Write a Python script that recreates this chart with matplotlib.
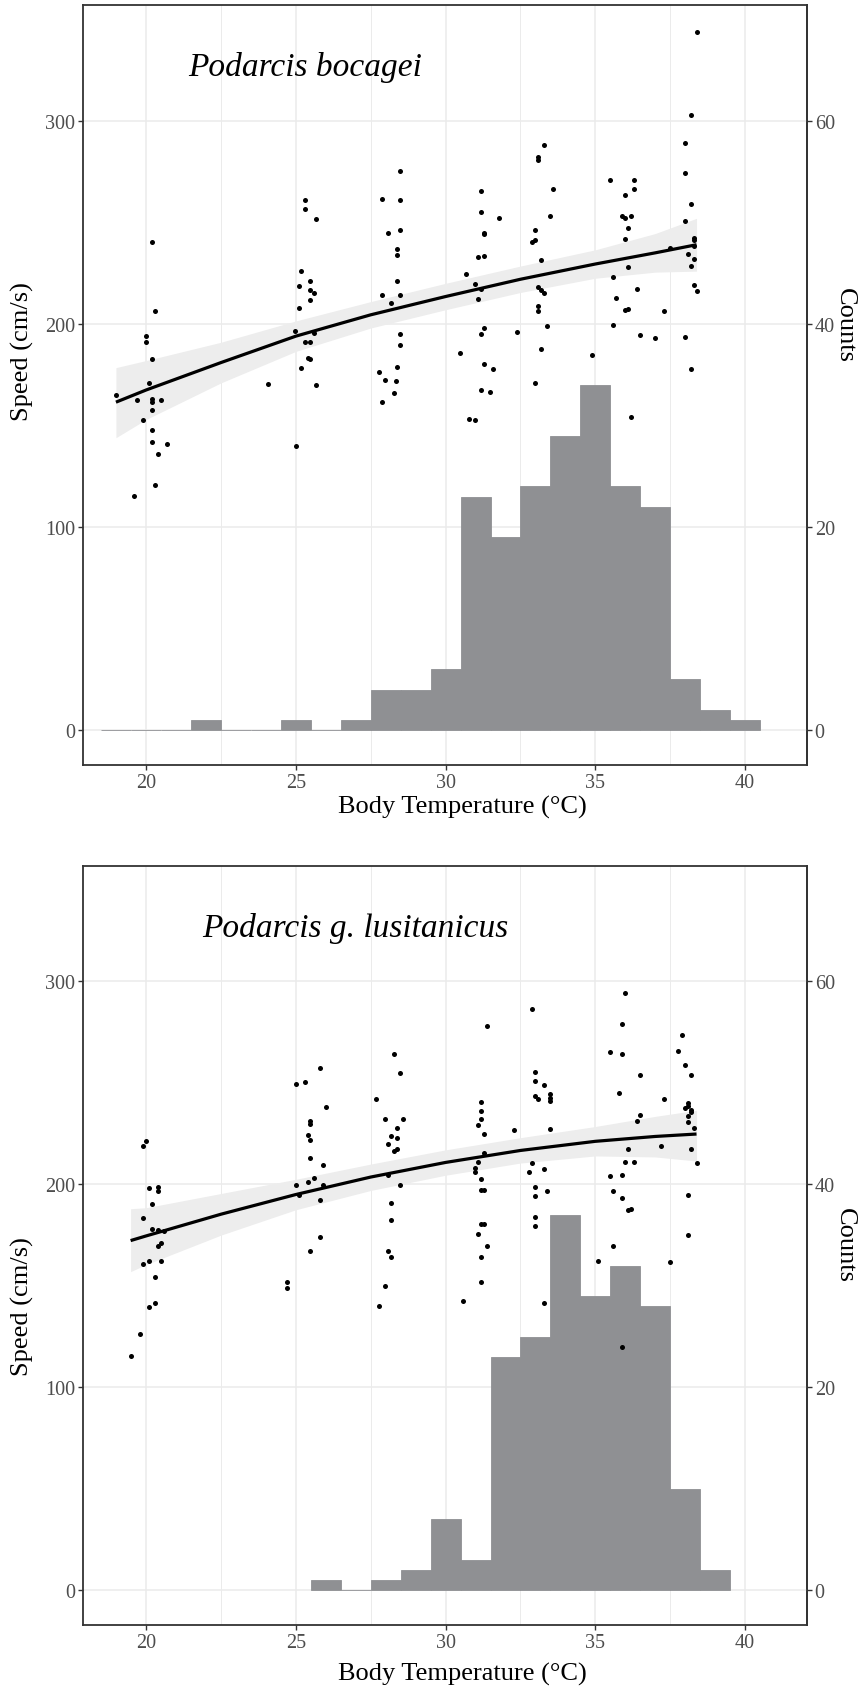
import numpy as np
import matplotlib
matplotlib.use("Agg")
import matplotlib.pyplot as plt

plt.rcParams['font.family'] = ['Liberation Serif', 'DejaVu Serif']

# ---------------- data: Podarcis bocagei ----------------
boc_temp = [20.18, 20.28, 19.98, 19.98, 20.18, 20.08, 18.99, 19.68, 20.18, 20.18, 20.48, 20.18, 19.88,
            20.18, 20.18, 20.68, 20.38, 20.28, 19.58,
            24.08, 24.99, 25.68, 25.29, 25.29, 25.68, 25.18, 25.09, 25.48, 25.48, 25.59, 25.48, 25.09,
            24.98, 25.59, 25.29, 25.48, 25.39, 25.48, 25.18,
            27.78, 27.98, 28.33, 28.28, 28.38, 27.88, 28.48, 27.88, 28.48, 28.08, 28.48, 28.38, 28.38,
            28.38, 27.88, 28.48, 28.18, 28.48, 28.48,
            30.68, 30.48, 31.17, 31.17, 31.27, 31.27, 31.77, 31.07, 31.27, 30.97, 31.17, 31.07, 31.27,
            31.17, 31.27, 31.57, 31.17, 31.47, 30.78, 30.98, 32.38,
            33.28, 33.08, 33.08, 33.58, 33.48, 32.98, 32.98, 32.88, 33.18, 33.08, 33.18, 33.28, 33.08,
            33.08, 33.38, 33.18, 32.98, 34.88,
            35.48, 36.28, 36.28, 35.98, 35.88, 35.98, 36.18, 36.08, 35.98, 35.58, 36.08, 36.38, 35.68,
            35.98, 36.08, 35.58, 36.48, 36.98, 37.28, 36.18,
            38.38, 38.18, 37.98, 37.98, 38.18, 37.98, 38.28, 38.28, 38.28, 38.08, 38.18, 38.28, 38.28,
            38.38, 37.98, 38.18, 37.48]
boc_speed = [240.2, 206.4, 193.9, 191.3, 182.6, 170.8, 165.2, 162.5, 163.1, 161.8, 162.5, 157.5, 152.5,
             147.7, 142.1, 140.8, 135.9, 120.8, 115.2,
             170.3, 139.8, 169.8, 261.0, 256.6, 251.8, 226.1, 218.5, 221.1, 216.6, 215.4, 211.6, 207.9,
             196.4, 195.6, 191.3, 191.0, 183.3, 182.9, 178.2,
             176.2, 172.2, 172.0, 166.0, 179.0, 161.6, 275.4, 261.6, 261.1, 244.9, 246.1, 236.9, 234.1,
             221.0, 214.3, 214.3, 210.3, 195.1, 189.7,
             224.4, 185.7, 265.6, 255.1, 244.8, 244.1, 252.0, 233.1, 233.4, 219.8, 217.2, 212.5, 198.2,
             194.9, 180.5, 178.0, 167.4, 166.6, 153.3, 152.5, 196.2,
             288.0, 282.1, 280.8, 266.4, 253.3, 246.1, 241.1, 240.3, 231.5, 218.2, 216.6, 215.2, 208.7,
             206.2, 199.2, 187.9, 171.1, 184.6,
             270.8, 270.8, 266.6, 263.4, 253.3, 252.1, 253.0, 247.2, 241.6, 223.1, 227.9, 217.2, 212.6,
             206.7, 207.2, 199.3, 194.8, 193.1, 206.2, 154.1,
             343.8, 303.1, 289.3, 274.1, 259.0, 250.5, 242.3, 241.1, 238.5, 234.6, 228.4, 232.1, 219.0,
             216.4, 193.8, 178.0, 237.4]
boc_bins = [19, 20, 21, 22, 23, 24, 25, 26, 27, 28, 29, 30, 31, 32, 33, 34, 35, 36, 37, 38, 39, 40]
boc_counts = [0, 0, 0, 1, 0, 0, 1, 0, 1, 4, 4, 6, 23, 19, 24, 29, 34, 24, 22, 5, 2, 1]
boc_fit_t = [18.99, 20.0, 22.5, 25.0, 27.5, 30.0, 32.5, 35.0, 37.0, 38.38]
boc_fit = [161.5, 167.5, 181.0, 194.0, 204.5, 213.5, 222.0, 229.5, 235.0, 239.0]
boc_lo = [144.0, 153.0, 171.0, 186.5, 198.0, 207.0, 215.5, 222.5, 225.5, 226.0]
boc_hi = [178.5, 182.0, 191.0, 201.5, 211.0, 220.0, 228.5, 236.5, 244.5, 252.0]

# ---------------- data: Podarcis g. lusitanicus ----------------
lus_temp = [19.98, 19.88, 20.08, 20.38, 20.38, 20.18, 19.88, 20.18, 20.38, 20.58, 20.48, 20.38, 20.08,
            20.48, 19.88, 20.28, 20.28, 20.08, 19.48, 19.78,
            25.79, 24.99, 25.29, 25.99, 25.48, 25.48, 25.39, 25.48, 25.48, 25.89, 25.59, 25.39, 24.99,
            25.89, 25.09, 25.79, 25.79, 25.48, 24.69, 24.69,
            28.28, 28.48, 27.68, 27.98, 28.58, 28.38, 28.18, 28.38, 28.08, 28.28, 28.38, 28.08, 28.48,
            28.18, 28.18, 28.08, 28.18, 27.98, 27.78, 30.57,
            31.39, 31.17, 31.17, 31.17, 31.07, 31.27, 31.27, 31.07, 30.97, 30.97, 31.17, 31.17, 31.27,
            31.17, 31.27, 31.07, 31.39, 31.17, 31.17, 32.28,
            32.88, 32.98, 32.98, 33.28, 32.98, 33.08, 33.48, 33.48, 33.48, 33.48, 32.88, 32.78, 33.28,
            32.98, 33.38, 32.98, 32.98, 32.98, 33.28, 35.08,
            35.98, 35.88, 35.48, 35.88, 36.48, 35.78, 36.48, 36.38, 36.08, 35.98, 36.28, 35.48, 35.88,
            35.58, 35.88, 36.08, 36.18, 35.58, 35.88, 37.49, 37.29, 37.19,
            37.88, 37.77, 37.98, 38.18, 38.08, 38.08, 37.98, 38.18, 38.18, 38.08, 38.08, 38.28, 38.18,
            38.38, 38.08, 38.08]
lus_speed = [221.6, 218.8, 198.2, 198.9, 196.6, 190.5, 183.5, 177.9, 177.4, 176.9, 171.3, 169.4, 162.3,
             162.3, 160.8, 154.5, 141.5, 139.7, 115.2, 126.3,
             257.3, 249.6, 250.6, 238.0, 231.1, 229.5, 224.4, 222.1, 213.1, 209.5, 202.9, 201.0, 199.5,
             199.7, 194.8, 192.5, 174.1, 167.2, 152.0, 149.1,
             264.2, 254.9, 242.3, 232.4, 232.4, 228.0, 223.7, 222.6, 220.0, 216.4, 217.4, 204.4, 199.7,
             191.0, 182.5, 167.1, 164.3, 149.9, 140.2, 142.6,
             278.0, 240.5, 236.0, 232.3, 229.0, 224.9, 215.6, 211.1, 208.2, 206.2, 202.5, 197.2, 197.2,
             180.5, 180.3, 175.3, 169.7, 164.0, 152.0, 226.7,
             286.5, 255.5, 250.8, 248.8, 243.4, 241.9, 244.5, 242.6, 241.1, 227.5, 210.6, 206.2, 207.4,
             198.9, 196.7, 194.4, 184.1, 179.5, 141.4, 162.0,
             294.5, 278.9, 265.4, 264.4, 254.1, 245.2, 234.2, 231.4, 217.5, 211.1, 211.1, 204.3, 204.4,
             196.9, 193.3, 187.4, 188.0, 169.4, 119.7, 161.8, 241.9, 219.0,
             273.7, 265.5, 259.0, 253.7, 239.9, 238.8, 237.7, 236.5, 235.7, 233.6, 230.6, 227.8, 217.5,
             210.3, 194.6, 175.1]
lus_bins = [26, 27, 28, 29, 30, 31, 32, 33, 34, 35, 36, 37, 38, 39]
lus_counts = [1, 0, 1, 2, 7, 3, 23, 25, 37, 29, 32, 28, 10, 2]
lus_fit_t = [19.48, 20.0, 22.5, 25.0, 27.5, 30.0, 32.5, 35.0, 37.0, 38.38]
lus_fit = [172.3, 174.6, 185.3, 195.0, 203.6, 210.8, 216.7, 221.2, 223.6, 224.8]
lus_lo = [157.0, 160.5, 175.0, 187.5, 197.0, 204.5, 210.5, 214.0, 213.5, 211.5]
lus_hi = [188.0, 188.5, 195.5, 202.5, 210.0, 217.0, 223.0, 228.5, 233.5, 236.5]

x_ticks = [20, 25, 30, 35, 40]
y_ticks = [0, 100, 200, 300]
count_ticks = [0, 20, 40, 60]
COUNT_SCALE = 5.0   # secondary axis: counts = speed / 5

W, H = 863, 1690
HIST_COL = '#8F9093'
TICK_COL = '#4D4D4D'
SPINE_COL = '#333333'
GRID_COL = '#EBEBEB'

fig = plt.figure(figsize=(W / 100, H / 100), dpi=100)


def panel(top_px, bot_px, temps, speeds, bins, counts, ft, fy, flo, fhi, title, title_x_px,
          speed_lab_px, counts_lab_px, xlab_px):
    ax = fig.add_axes([83 / W, 1 - bot_px / H, 724 / W, (bot_px - top_px) / H])
    ax.set_xlim(17.89, 42.07)
    ax.set_ylim(-17.1, 357.0)
    ax.set_xticks(x_ticks)
    ax.set_xticks([22.5, 27.5, 32.5, 37.5], minor=True)
    ax.set_yticks(y_ticks)
    ax.grid(which='major', color=GRID_COL, lw=1.1)
    ax.grid(which='minor', axis='x', color=GRID_COL, lw=0.7)
    ax.set_axisbelow(True)
    ax.bar(bins, np.asarray(counts) * COUNT_SCALE, width=1.0, color=HIST_COL,
           edgecolor=HIST_COL, linewidth=0.6, zorder=2)
    ax.fill_between(ft, flo, fhi, color='#EDEDED', lw=0, zorder=3)
    ax.scatter(temps, speeds, s=13, color='black', lw=0, zorder=4)
    ax.plot(ft, fy, color='black', lw=2.3, zorder=5, solid_capstyle='butt', solid_joinstyle='round')
    for sp in ax.spines.values():
        sp.set_color(SPINE_COL)
        sp.set_linewidth(1.3)
    ax.tick_params(which='major', length=3.5, width=1, color=SPINE_COL, labelcolor=TICK_COL,
                   labelsize=14.5, pad=2)
    ax.tick_params(which='minor', length=0)
    sec = ax.secondary_yaxis('right', functions=(lambda s: s / COUNT_SCALE, lambda c: c * COUNT_SCALE))
    sec.set_yticks(count_ticks)
    sec.spines['right'].set_color(SPINE_COL)
    sec.spines['right'].set_linewidth(1.3)
    sec.tick_params(length=3.5, width=1, color=SPINE_COL, labelcolor=TICK_COL, labelsize=14.5, pad=2)
    fig.text(title_x_px / W, 1 - (top_px + 70) / H, title, style='italic', fontsize=24,
             ha='left', va='baseline')
    fig.text(22 / W, 1 - speed_lab_px / H, 'Speed (cm/s)', rotation=90, fontsize=19,
             ha='center', va='center')
    fig.text(845 / W, 1 - counts_lab_px / H, 'Counts', rotation=270, fontsize=19,
             ha='center', va='center')
    fig.text(462 / W, 1 - xlab_px / H, 'Body Temperature (°C)', fontsize=19,
             ha='center', va='baseline')
    return ax


panel(6, 766, boc_temp, boc_speed, boc_bins, boc_counts, boc_fit_t, boc_fit, boc_lo, boc_hi,
      'Podarcis bocagei', 188, 352, 326, 814)
panel(866.7, 1626, lus_temp, lus_speed, lus_bins, lus_counts, lus_fit_t, lus_fit, lus_lo, lus_hi,
      'Podarcis g. lusitanicus', 201.7, 1307, 1246, 1681)

fig.savefig('out.png', dpi=100)
